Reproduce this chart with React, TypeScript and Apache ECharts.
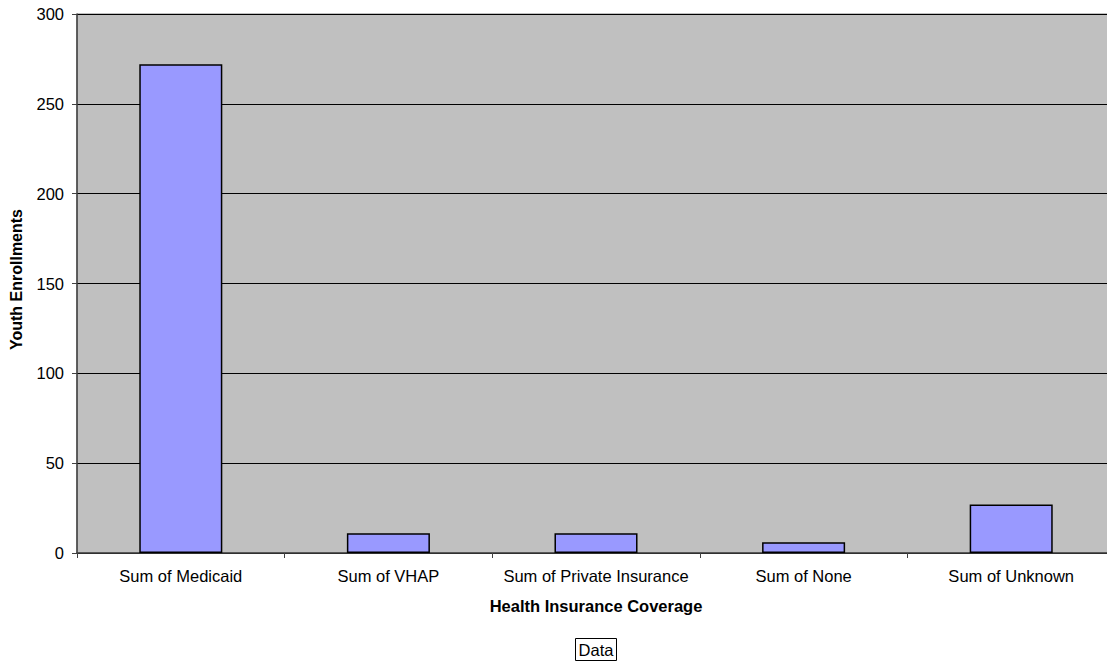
import React, { useEffect, useRef } from "react";
import * as echarts from "echarts";

const categories = [
  "Sum of Medicaid",
  "Sum of VHAP",
  "Sum of Private Insurance",
  "Sum of None",
  "Sum of Unknown",
];
const enrollments = [272, 11, 11, 6, 27];
const seriesName = "Data";
const yTicks = { min: 0, max: 300, interval: 50 };

const FONT = "Liberation Sans, Arial, sans-serif";

export default function App() {
  const ref = useRef<HTMLDivElement>(null);

  useEffect(() => {
    if (!ref.current) return;
    const chart = echarts.init(ref.current, undefined, { renderer: "svg" });
    chart.setOption({
      animation: false,
      backgroundColor: "#ffffff",
      textStyle: { fontFamily: FONT },
      grid: {
        left: 76,
        top: 14,
        right: 0,
        bottom: 111,
        show: true,
        backgroundColor: "#c0c0c0",
        borderColor: "#808080",
        borderWidth: 1,
      },
      xAxis: {
        type: "category",
        data: categories,
        name: "Health Insurance Coverage",
        nameLocation: "middle",
        nameGap: 44,
        nameTextStyle: { fontSize: 16.5, fontWeight: "bold", color: "#000", fontFamily: FONT },
        axisLine: { lineStyle: { color: "#404040", width: 1.5 } },
        axisTick: { show: true, length: 5, lineStyle: { color: "#404040" } },
        axisLabel: { fontSize: 16.5, color: "#000", margin: 14, interval: 0, fontFamily: FONT },
        splitLine: { show: false },
      },
      yAxis: {
        type: "value",
        min: yTicks.min,
        max: yTicks.max,
        interval: yTicks.interval,
        name: "Youth Enrollments",
        nameLocation: "middle",
        nameGap: 53,
        nameTextStyle: { fontSize: 16, fontWeight: "bold", color: "#000", fontFamily: FONT, padding: [0, 0, 0, 8] },
        axisLine: { show: true, lineStyle: { color: "#404040", width: 1.5 } },
        axisTick: { show: true, length: 5, lineStyle: { color: "#404040" } },
        axisLabel: { fontSize: 16.5, color: "#000", margin: 13, fontFamily: FONT },
        splitLine: { show: true, lineStyle: { color: "#000", width: 1 } },
      },
      series: [
        {
          name: seriesName,
          type: "bar",
          data: enrollments,
          barWidth: "40%",
          itemStyle: { color: "#9999ff", borderColor: "#000", borderWidth: 1.5 },
        },
      ],
      graphic: [
        {
          type: "group",
          left: 575,
          top: 638,
          children: [
            {
              type: "rect",
              shape: { x: 0, y: 0, width: 41, height: 22 },
              style: { fill: "#fff", stroke: "#000", lineWidth: 1 },
            },
            {
              type: "text",
              x: 20.5,
              y: 11,
              style: {
                text: seriesName,
                fontSize: 16.5,
                fontFamily: FONT,
                fill: "#000",
                align: "center",
                verticalAlign: "middle",
              },
            },
          ],
        },
      ],
    });
    return () => chart.dispose();
  }, []);

  return (
    <div style={{ position: "absolute", left: 0, top: 0, width: 1107, height: 664, overflow: "hidden" }}>
      <div ref={ref} style={{ width: 1115, height: 664 }} />
    </div>
  );
}
